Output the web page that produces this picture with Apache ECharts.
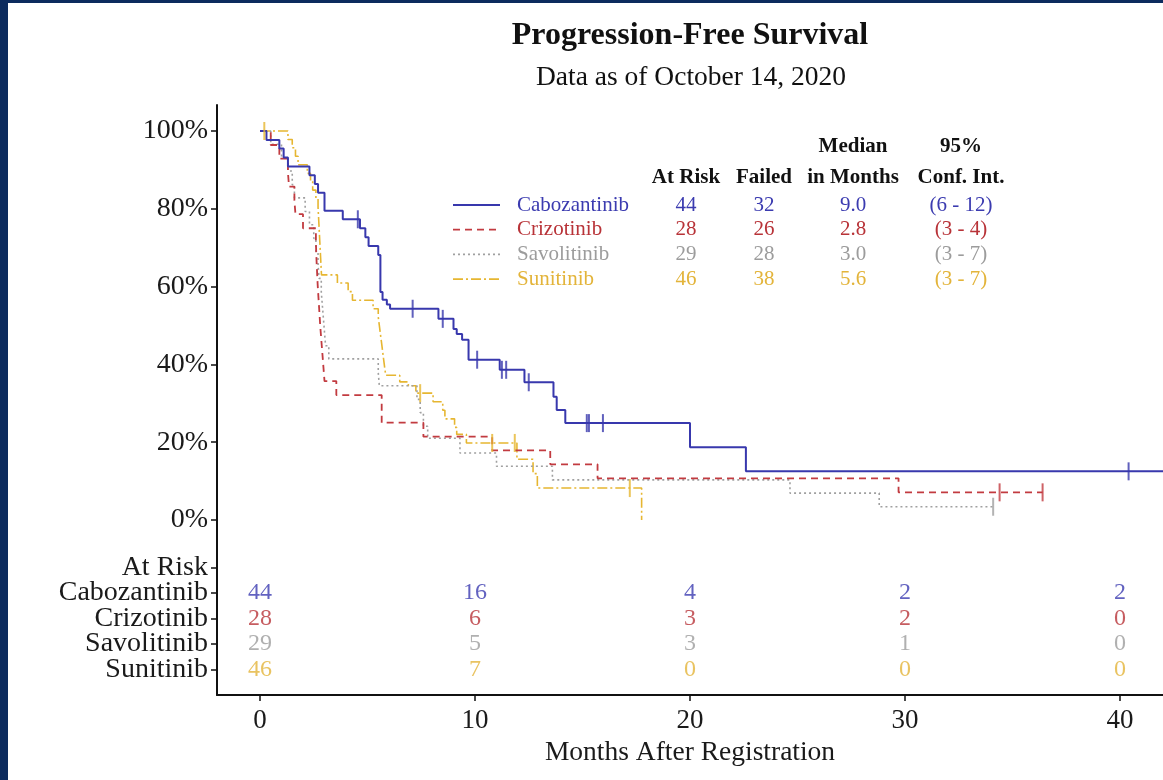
<!DOCTYPE html>
<html>
<head>
<meta charset="utf-8">
<script src="https://cdn.jsdelivr.net/npm/echarts@6/dist/echarts.min.js"></script>
<style>
  html, body { margin: 0; padding: 0; background: #ffffff; overflow: hidden; }
  #chart { position: absolute; left: 0; top: 0; width: 1163px; height: 780px; }
  .edge { position: absolute; background: #0c2b5e; }
</style>
</head>
<body>
<div id="chart"></div>
<div class="edge" style="left:0;top:0;width:8px;height:780px"></div>
<div class="edge" style="left:0;top:0;width:1163px;height:3px"></div>
<script>
// ---- data ----
const arms = ['Cabozantinib', 'Crizotinib', 'Savolitinib', 'Sunitinib'];

// Kaplan-Meier estimates: [months, % progression-free]
const cabozantinibCurve = [
  [0, 100], [0.3, 97.7], [0.9, 95.5], [1.1, 93.2], [1.3, 90.9], [2.3, 88.6], [2.55, 86.4],
  [2.7, 84.1], [3.0, 79.5], [3.85, 77.3], [4.65, 75.0], [4.9, 72.7], [5.05, 70.4], [5.5, 68.1],
  [5.6, 58.6], [5.7, 56.6], [5.9, 55.4], [6.05, 54.3], [8.3, 51.7], [9.0, 49.1], [9.15, 47.8],
  [9.4, 46.3], [9.7, 41.2], [11.15, 38.6], [12.3, 35.4], [13.65, 31.7], [13.8, 28.3],
  [14.2, 24.9], [20.0, 18.7], [22.6, 12.5], [42, 12.5]
];
const cabozantinibCensored = [
  [4.55, 77.3], [7.1, 54.3], [8.5, 51.7], [10.1, 41.2], [11.25, 38.6], [11.45, 38.6],
  [12.5, 35.4], [15.2, 24.9], [15.3, 24.9], [15.95, 24.9], [40.4, 12.5]
];

const crizotinibCurve = [
  [0, 100], [0.5, 96.4], [0.9, 92.9], [1.3, 89.3], [1.35, 85.7], [1.6, 82.1], [1.65, 78.6],
  [2.0, 75.0], [2.6, 71.4], [2.62, 67.9], [2.65, 64.3], [2.68, 60.7], [2.72, 57.1], [2.76, 53.6],
  [2.8, 50.0], [2.85, 46.4], [2.9, 42.9], [2.95, 39.3], [3.0, 35.7], [3.55, 32.1], [5.66, 25.0],
  [7.6, 21.4], [10.8, 17.9], [13.5, 14.3], [15.7, 10.7], [29.7, 7.1], [36.4, 7.1]
];
const crizotinibCensored = [[34.4, 7.1], [36.4, 7.1]];

const savolitinibCurve = [
  [0, 100], [0.5, 96.6], [1.0, 93.1], [1.3, 89.7], [1.5, 86.2], [1.6, 82.8], [2.1, 79.3],
  [2.3, 75.9], [2.5, 72.4], [2.6, 69.0], [2.7, 65.5], [2.75, 62.1], [2.85, 58.6], [2.9, 55.2],
  [2.95, 51.7], [3.0, 48.3], [3.05, 44.8], [3.2, 41.4], [5.5, 37.9], [5.55, 34.5], [7.3, 31.0],
  [7.45, 27.6], [7.6, 24.1], [7.8, 21.0], [9.3, 17.2], [11.0, 13.8], [13.6, 10.3],
  [24.65, 6.9], [28.8, 3.4], [34.1, 3.4]
];
const savolitinibCensored = [[34.1, 3.4]];

const sunitinibCurve = [
  [0, 100], [1.3, 97.8], [1.5, 95.7], [1.65, 93.5], [1.77, 91.3], [2.2, 89.1], [2.35, 87.0],
  [2.45, 84.8], [2.6, 82.6], [2.7, 80.4], [2.72, 78.3], [2.74, 76.1], [2.76, 73.9], [2.78, 71.7],
  [2.8, 69.6], [2.82, 67.4], [2.84, 65.2], [2.86, 63.0], [3.6, 60.9], [4.1, 58.7], [4.3, 56.5],
  [5.26, 54.3], [5.5, 52.2], [5.55, 50.0], [5.6, 47.8], [5.65, 45.7], [5.7, 43.5], [5.75, 41.3],
  [5.8, 39.1], [5.85, 37.2], [6.5, 35.5], [6.9, 34.5], [7.25, 32.6], [8.05, 30.4], [8.5, 28.2],
  [8.6, 26.0], [9.05, 23.8], [9.15, 22.0], [9.6, 19.8], [11.95, 15.6], [12.7, 11.9],
  [12.9, 8.2], [17.75, 0]
];
const sunitinibCensored = [[0.2, 100], [7.45, 32.6], [10.8, 19.8], [11.85, 19.8], [17.2, 8.2]];

// numbers at risk by month
const riskMonths = [0, 10, 20, 30, 40];
const atRiskCabozantinib = [44, 16, 4, 2, 2];
const atRiskCrizotinib = [28, 6, 3, 2, 0];
const atRiskSavolitinib = [29, 5, 3, 1, 0];
const atRiskSunitinib = [46, 7, 0, 0, 0];

// summary table
const summaryAtRisk = [44, 28, 29, 46];
const summaryFailed = [32, 26, 28, 38];
const summaryMedian = ['9.0', '2.8', '3.0', '5.6'];
const summaryCI = ['(6 - 12)', '(3 - 4)', '(3 - 7)', '(3 - 7)'];

// axis ticks
const percentTicks = [0, 20, 40, 60, 80, 100];
const monthTicks = [0, 10, 20, 30, 40];

// ---- styling / layout ----
const SERIF = '"Liberation Serif", "Times New Roman", serif';
const armColors = ['#3838ad', '#c23b40', '#a0a0a0', '#e6b631'];
const armText = ['#3b3bb0', '#b83338', '#9c9c9c', '#e3b43a'];
const armDash = ['solid', [7, 5], [2, 3], [10, 3, 2, 3]];
const armWidth = [2, 1.8, 1.6, 1.6];

const curves = [cabozantinibCurve, crizotinibCurve, savolitinibCurve, sunitinibCurve];
const censored = [cabozantinibCensored, crizotinibCensored, savolitinibCensored, sunitinibCensored];
const atRisk = [atRiskCabozantinib, atRiskCrizotinib, atRiskSavolitinib, atRiskSunitinib];

// the risk table shares the y scale below 0%
const rowLabels = ['At Risk'].concat(arms);
const rowTop = -12.2;
const rowStep = 6.55;
const rowValue = i => rowTop - i * rowStep;
// rows are split over two overlaid axes so neighbouring labels never collide
const rowsA = rowLabels.map((_, i) => i).filter(i => i % 2 === 0).map(rowValue);
const rowsB = rowLabels.map((_, i) => i).filter(i => i % 2 === 1).map(rowValue);
const yTicksA = percentTicks.concat(rowsA);

function yLabel(v) {
  if (v > -0.5) return Math.round(v) + '%';
  return rowLabels[Math.round((rowTop - v) / rowStep)];
}

const Y_MIN = -45, Y_MAX = 106.68;
const labelStyle = { fontFamily: SERIF, fontSize: 28, color: '#1a1a1a', margin: 9,
                     showMinLabel: true, showMaxLabel: true, formatter: yLabel };
const tickStyle = { show: true, length: 6, lineStyle: { color: '#111', width: 1.5 } };

const series = [];
arms.forEach((name, k) => {
  series.push({
    name: name,
    type: 'line',
    step: 'end',
    data: curves[k],
    symbol: 'none',
    lineStyle: { color: armColors[k], width: armWidth[k], type: armDash[k] },
    z: 4 - k
  });
  series.push({
    name: name + ' censored',
    type: 'scatter',
    data: censored[k],
    symbol: 'rect',
    symbolSize: [2, 18],
    itemStyle: { color: armColors[k] },
    z: 6
  });
  series.push({
    name: name + ' at risk',
    type: 'scatter',
    data: riskMonths.map((m, j) => [m, rowValue(k + 1), atRisk[k][j]]),
    symbolSize: 0,
    label: {
      show: true,
      position: 'inside',
      formatter: p => String(p.value[2]),
      fontFamily: SERIF,
      fontSize: 24,
      color: armText[k]
    },
    z: 7
  });
});

// summary table drawn beside the curves
const graphic = [];
const colX = [686, 764, 853, 961];
const headY1 = 147, headY2 = 178, row0 = 205, rowGap = 24.7;
const headFont = 'bold 21px ' + SERIF;
const cellFont = '21px ' + SERIF;
function txt(x, y, s, font, fill, align) {
  graphic.push({
    type: 'text', x: x, y: y, silent: true,
    style: { text: s, font: font, fill: fill, align: align || 'center', verticalAlign: 'middle',
             textAlign: align || 'center', textVerticalAlign: 'middle' }
  });
}
txt(colX[2], headY1, 'Median', headFont, '#111');
txt(colX[3], headY1, '95%', headFont, '#111');
txt(colX[0], headY2, 'At Risk', headFont, '#111');
txt(colX[1], headY2, 'Failed', headFont, '#111');
txt(colX[2], headY2, 'in Months', headFont, '#111');
txt(colX[3], headY2, 'Conf. Int.', headFont, '#111');
arms.forEach((name, k) => {
  const y = row0 + k * rowGap;
  graphic.push({
    type: 'line', silent: true,
    shape: { x1: 453, y1: y, x2: 500, y2: y },
    style: { stroke: armColors[k], lineWidth: armWidth[k],
             lineDash: armDash[k] === 'solid' ? null : armDash[k] }
  });
  txt(517, y, name, cellFont, armText[k], 'left');
  txt(colX[0], y, String(summaryAtRisk[k]), cellFont, armText[k]);
  txt(colX[1], y, String(summaryFailed[k]), cellFont, armText[k]);
  txt(colX[2], y, summaryMedian[k], cellFont, armText[k]);
  txt(colX[3], y, summaryCI[k], cellFont, armText[k]);
});

const chart = echarts.init(document.getElementById('chart'), null, { renderer: 'canvas' });
chart.setOption({
  backgroundColor: '#ffffff',
  animation: false,
  title: [
    { text: 'Progression-Free Survival', left: 685, top: 15, textAlign: 'center',
      textStyle: { fontFamily: SERIF, fontWeight: 'bold', fontSize: 32, color: '#111' } },
    { text: 'Data as of October 14, 2020', left: 686, top: 59, textAlign: 'center',
      textStyle: { fontFamily: SERIF, fontWeight: 'normal', fontSize: 27.5, color: '#111' } }
  ],
  grid: { left: 217, width: 946, top: 105, height: 590, containLabel: false, outerBoundsMode: 'none' },
  xAxis: {
    type: 'value', min: -2, max: 42,
    name: 'Months After Registration', nameLocation: 'middle', nameGap: 43,
    nameTextStyle: { fontFamily: SERIF, fontSize: 27.5, color: '#1a1a1a' },
    axisLine: { show: true, onZero: false, lineStyle: { color: '#111', width: 2 } },
    axisTick: Object.assign({ customValues: monthTicks }, tickStyle),
    axisLabel: { customValues: monthTicks, fontFamily: SERIF, fontSize: 27, color: '#1a1a1a', margin: 12,
                 showMinLabel: true, showMaxLabel: true },
    splitLine: { show: false }
  },
  yAxis: [
    {
      type: 'value', min: Y_MIN, max: Y_MAX, position: 'left',
      axisLine: { show: true, onZero: false, lineStyle: { color: '#111', width: 2 } },
      axisTick: Object.assign({ customValues: yTicksA }, tickStyle),
      axisLabel: Object.assign({ customValues: yTicksA }, labelStyle),
      splitLine: { show: false }
    },
    {
      type: 'value', min: Y_MIN, max: Y_MAX, position: 'left', offset: 0,
      axisLine: { show: false, onZero: false },
      axisTick: Object.assign({ customValues: rowsB }, tickStyle),
      axisLabel: Object.assign({ customValues: rowsB }, labelStyle),
      splitLine: { show: false }
    }
  ],
  series: series,
  graphic: graphic
});
</script>
</body>
</html>
